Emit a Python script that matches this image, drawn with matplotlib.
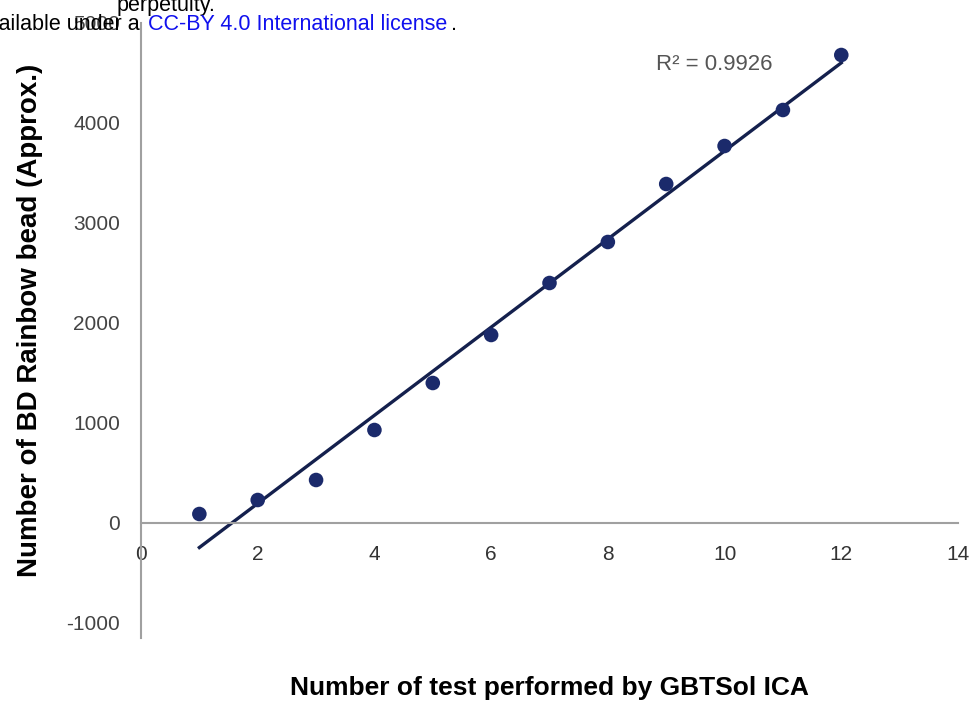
import numpy as np
import matplotlib
matplotlib.use("Agg")
from matplotlib import pyplot as plt
from matplotlib.ticker import FuncFormatter

plt.rcParams['font.family'] = ['Liberation Sans', 'DejaVu Sans']

# data
tests = [1, 2, 3, 4, 5, 6, 7, 8, 9, 10, 11, 12]
beads = [90, 230, 430, 930, 1400, 1880, 2400, 2810, 3390, 3770, 4130, 4680]
x_ticks = [0, 2, 4, 6, 8, 10, 12, 14]
y_ticks = [-1000, 0, 1000, 2000, 3000, 4000, 5000]

fig = plt.figure(figsize=(9.74, 7.05), dpi=100)
ax = fig.add_axes([141/974, 1 - 638/705, (958 - 141)/974, (638 - 23)/705])

ax.scatter(tests, beads, s=110, color='#1b2a6b', zorder=3, edgecolors='none')

# linear trend line
slope, icpt = np.polyfit(tests, beads, 1)
xs = np.array([tests[0], tests[-1]])
ax.plot(xs, slope * xs + icpt, color='#14204d', lw=2.4, zorder=2)

ax.set_xlim(0, 14)
ax.set_ylim(-1150, 5000)
ax.spines['left'].set_position(('data', 0))
ax.spines['bottom'].set_position(('data', 0))
ax.spines['top'].set_visible(False)
ax.spines['right'].set_visible(False)
for s in ['left', 'bottom']:
    ax.spines[s].set_color('#a0a0a0')
    ax.spines[s].set_linewidth(1.5)

ax.set_xticks(x_ticks)
ax.set_yticks(y_ticks)
ax.yaxis.set_major_formatter(FuncFormatter(lambda v, p: "%d" % v))
ax.tick_params(axis='x', length=0, pad=16, labelsize=15, labelcolor='#333333')
ax.tick_params(axis='y', length=0, pad=15, labelsize=15, labelcolor='#444444')

ax.text(714/974, 1 - 64/705, "R² = 0.9926", transform=fig.transFigure, fontsize=16,
        color='#555555', ha='center', va='center')

fig.text(30/974, 1 - 320/705, "Number of BD Rainbow bead (Approx.)", rotation=90,
         fontsize=20, fontweight='bold', ha='center', va='center')
fig.text(549/974, 1 - 688/705, "Number of test performed by GBTSol ICA",
         fontsize=19, fontweight='bold', ha='center', va='center')

# header text from the preprint page
fig.text(117/974, 1 - 5/705, "perpetuity.", fontsize=15.5, ha='left', va='center')
fig.text(146/974, 1 - 25/705, "available under a ", fontsize=15.5, ha='right', va='center')
fig.text(148/974, 1 - 25/705, "CC-BY 4.0 International license", fontsize=15.5,
         ha='left', va='center', color='#1010ee')
fig.text(451/974, 1 - 25/705, ".", fontsize=15.5, ha='left', va='center')

fig.savefig("out.png", dpi=100)
